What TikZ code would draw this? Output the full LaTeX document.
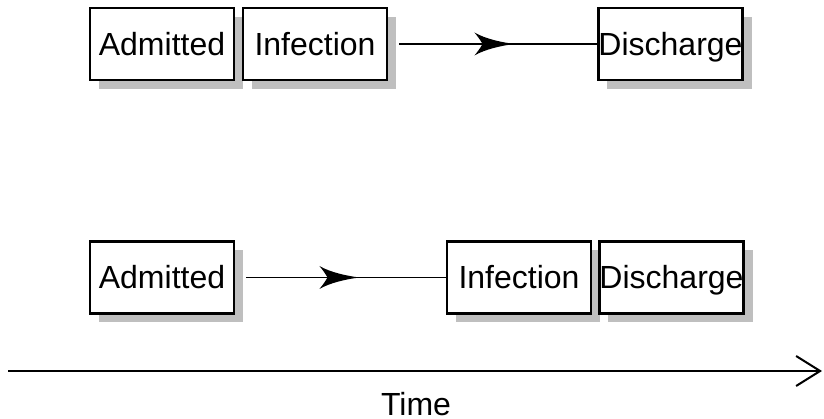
\documentclass[tikz,border=0pt]{standalone}
\usepackage{fontspec}
\setmainfont{Liberation Sans}
\usetikzlibrary{shadows,decorations.markings,arrows.meta}
\begin{document}
\begin{tikzpicture}[x=1pt,y=1pt,
  event/.style={draw=black,line width=2.8pt,fill=white,
    minimum width=144pt,minimum height=72pt,inner sep=0pt,
    text height=23pt,text depth=0pt,
    font=\fontsize{32}{38}\selectfont,
    drop shadow={shadow xshift=9pt,shadow yshift=-9pt,fill=black!25,opacity=1}},
  flow/.style={line width=1.8pt,shorten <=11pt,
    postaction={decorate,decoration={markings,
      mark=at position #1 with {\fill (0,0) .. controls (-12,1.5) and (-29,5) .. (-40,11.5)
        .. controls (-35,5.5) and (-33,2) .. (-32,0)
        .. controls (-33,-2) and (-35,-5.5) .. (-40,-11.5)
        .. controls (-29,-5) and (-12,-1.5) .. (0,0) -- cycle;}}}},
  axis/.style={line width=2pt,-{Straight Barb[length=24pt,width=30pt,line width=2pt]}}
]
\useasboundingbox (0,0) rectangle (824,419);

% first patient: infection right after admission
\node[event] (a1) at (162,375) {Admitted};
\node[event] (i1) at (315,375) {Infection};
\node[event] (d1) at (670.5,375) {Discharge};
\draw[flow=0.604] (i1.east) -- (d1.west);

% second patient: infection just before discharge
\node[event] (a2) at (162,141.5) {Admitted};
\node[event] (i2) at (519,141.5) {Infection};
\node[event] (d2) at (671.5,141.5) {Discharge};
\draw[flow=0.59] (a2.east) -- (i2.west);

% time axis
\coordinate (t0) at (8,48);
\coordinate (t1) at (822,48);
\draw[axis] (t0) -- (t1);
\node[font=\fontsize{32}{38}\selectfont,anchor=base,inner sep=0pt,
  text height=23pt,text depth=0pt] (time) at (416,3) {Time};
\end{tikzpicture}
\end{document}
